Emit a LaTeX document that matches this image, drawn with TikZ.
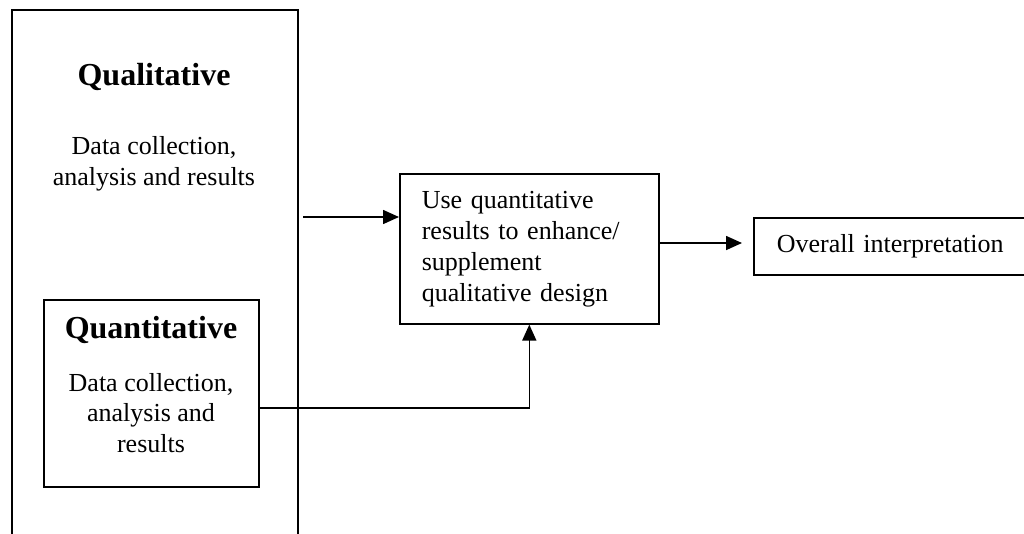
\documentclass[tikz,border=0pt]{standalone}
\usepackage{fontspec}
\setmainfont{Liberation Serif}
\usetikzlibrary{arrows.meta}
\tikzset{
  box/.style={draw=black, line width=1.6pt, rectangle, inner sep=0pt},
  txt/.style={font=\fontsize{26}{30.5}\selectfont, align=center, inner sep=0pt},
  head/.style={font=\fontsize{32}{36}\selectfont\bfseries, inner sep=0pt},
  conn/.style={line width=1.6pt},
  arr/.style={conn, -{Triangle[length=16pt,width=14pt]}}
}
\begin{document}
\begin{tikzpicture}[x=1pt,y=-1pt]
\useasboundingbox (0,0) rectangle (1024,533);
\clip (0,0) rectangle (1024,533);
% outer qualitative box
\node[box, anchor=north west, minimum width=286pt, minimum height=560pt] (qual) at (11,9) {};
\node[head] (qualh) at (154,77) {Qualitative};
\node[txt] (qualt) at (154,164) {Data collection,\\analysis and results};
% inner quantitative box
\node[box, anchor=north west, minimum width=215pt, minimum height=187pt] (quant) at (43,299) {};
\node[head] (quanth) at (151,330) {Quantitative};
\node[txt] (quantt) at (151,413) {Data collection,\\analysis and\\results};
% middle box
\node[box, anchor=north west, minimum width=259pt, minimum height=150pt, text width=215pt, inner xsep=22pt, align=left, font=\fontsize{26}{31}\selectfont] (mid) at (399,173) {Use quantitative\\results to enhance/\\supplement\\qualitative design};
% right box
\node[box, anchor=north west, minimum height=57pt, text width=262pt, inner xsep=23pt, align=left, font=\fontsize{26}{30.5}\selectfont] (interp) at (753,217) {Overall interpretation};
% connectors
\coordinate (a1) at (303,217);
\draw[arr] (a1) -- (a1 -| mid.west);
\coordinate (q1) at (258,408);
\draw[arr] (q1) -- (q1 -| mid.south) -- (mid.south);
\coordinate (m1) at (658,243);
\draw[arr, shorten >=11pt] (m1) -- (m1 -| interp.west);
\end{tikzpicture}
\end{document}
